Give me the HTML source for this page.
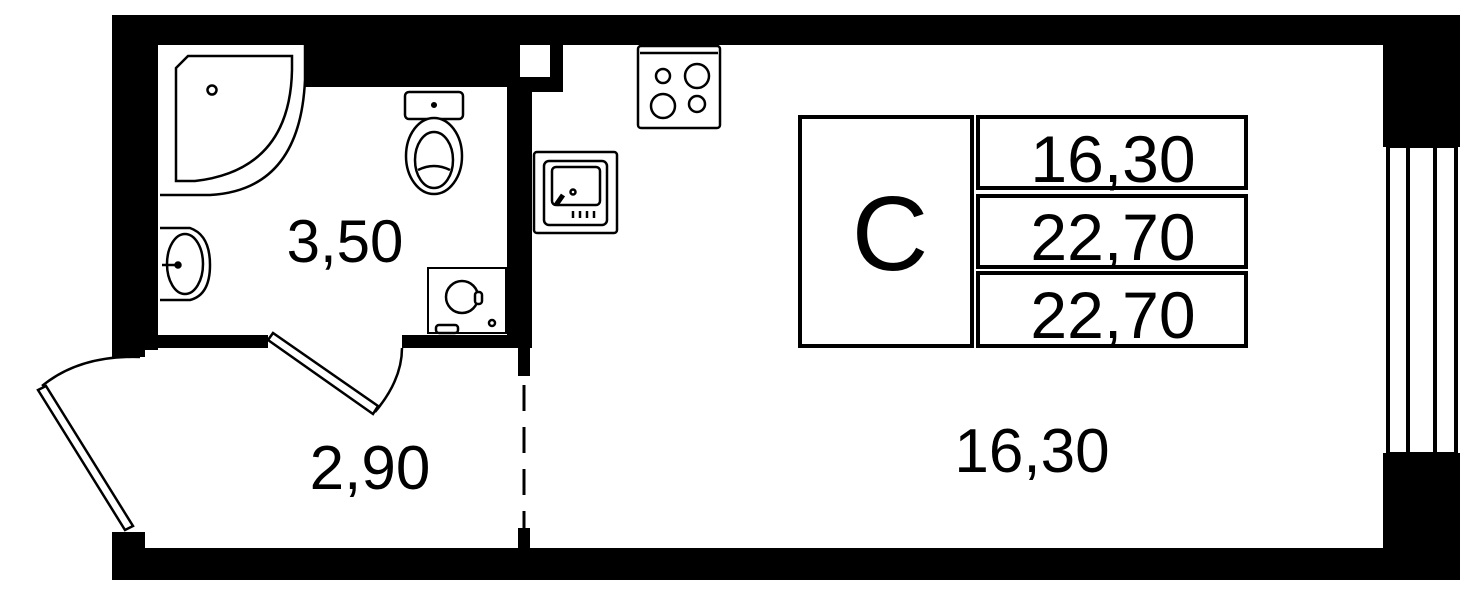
<!DOCTYPE html>
<html><head><meta charset="utf-8"><style>
html,body{margin:0;padding:0;background:#fff;}
svg{display:block;}
text{font-family:"Liberation Sans",sans-serif;fill:#000;}
</style></head><body>
<svg width="1481" height="600" viewBox="0 0 1481 600" xmlns="http://www.w3.org/2000/svg">
<rect width="1481" height="600" fill="#fff"/>
<g fill="#000">
<!-- top wall -->
<rect x="112" y="15" width="1348" height="30"/>
<!-- bathroom thicker top -->
<rect x="305" y="15" width="202" height="72"/>
<!-- left wall -->
<rect x="112" y="15" width="46" height="335"/>
<rect x="112" y="335" width="33" height="22"/>
<!-- bathroom right wall -->
<rect x="507" y="15" width="25" height="333"/>
<rect x="507" y="15" width="56" height="77"/>
<!-- hall right wall stub -->
<rect x="518" y="340" width="12" height="36"/>
<rect x="518" y="528" width="12" height="52"/>
<!-- bathroom bottom wall -->
<rect x="145" y="335" width="123" height="13"/>
<rect x="402" y="335" width="128" height="13"/>
<!-- bottom wall -->
<rect x="112" y="548" width="1348" height="32"/>
<rect x="112" y="532" width="33" height="48"/>
<!-- right wall -->
<rect x="1383" y="15" width="77" height="132"/>
<rect x="1383" y="453" width="77" height="127"/>
</g>
<!-- small white square -->
<rect x="520" y="45" width="30" height="32" fill="#fff"/>
<!-- dashed divider -->
<line x1="524" y1="385" x2="524" y2="528" stroke="#000" stroke-width="3" stroke-dasharray="26,16"/>
<!-- window -->
<g stroke="#000" stroke-width="4" fill="none">
<line x1="1388" y1="147" x2="1388" y2="453"/>
<line x1="1408" y1="147" x2="1408" y2="453"/>
<line x1="1435" y1="147" x2="1435" y2="453"/>
<line x1="1456" y1="147" x2="1456" y2="453"/>
<line x1="1386" y1="147" x2="1458" y2="147" stroke-width="2"/>
<line x1="1386" y1="453" x2="1458" y2="453" stroke-width="2"/>
</g>
<!-- entrance door -->
<g stroke="#000" fill="none">
<path d="M38 390 L125 530 L133 526 L46 386 Z" stroke-width="2.5" fill="#fff"/>
<path d="M42 386 Q80 355 140 357" stroke-width="2.5"/>
<!-- bathroom door -->
<path d="M268 340 L373 414 L378 406 L273 333 Z" stroke-width="2.5" fill="#fff"/>
<path d="M375 412 Q402 380 402 348" stroke-width="2.5"/>
</g>
<!-- shower -->
<g stroke="#000" stroke-width="2.5" fill="#fff">
<path d="M160 45 L305 45 L305 80 Q300 190 210 195 L160 195 Z" stroke="none"/>
<path d="M176 68 L188 56 L292 56 L292 70 Q290 170 195 181 L176 181 Z" fill="none"/>
<path d="M305 45 L305 80 Q300 190 210 195 L160 195" fill="none"/>
<circle cx="212" cy="90" r="4.5" fill="none"/>
<!-- toilet -->
<rect x="405" y="92" width="58" height="27" rx="4"/>
<circle cx="434" cy="105" r="1.8" fill="#000"/>
<ellipse cx="434" cy="156" rx="28" ry="38"/>
<ellipse cx="434" cy="160" rx="19" ry="28"/>
<path d="M418 170 Q434 162 450 170" fill="none"/>
<!-- washbasin -->
<path d="M160 228 L190 228 Q210 235 210 265 Q210 295 190 300 L160 300" />
<ellipse cx="185" cy="264" rx="18" ry="30"/>
<line x1="162" y1="265" x2="178" y2="265"/>
<circle cx="178" cy="265" r="2.5" fill="#000"/>
<!-- washing machine -->
<rect x="428" y="268" width="78" height="65" stroke-width="2"/>
<circle cx="462" cy="297" r="16"/>
<rect x="475" y="292" width="7" height="12" rx="3"/>
<circle cx="492" cy="323" r="3"/>
<rect x="436" y="325" width="22" height="8" rx="3"/>
<!-- stove -->
<rect x="638" y="46" width="82" height="82" rx="3"/>
<line x1="640" y1="53" x2="718" y2="53"/>
<circle cx="663" cy="76" r="7"/>
<circle cx="697" cy="76" r="12"/>
<circle cx="663" cy="106" r="12"/>
<circle cx="697" cy="104" r="8"/>
<!-- sink -->
<rect x="534" y="152" width="83" height="81" rx="3"/>
<rect x="544" y="161" width="63" height="64" rx="5"/>
<rect x="552" y="167" width="48" height="38" rx="4"/>
<circle cx="573" cy="192" r="2.5"/>
<line x1="563" y1="195" x2="556" y2="205" stroke-width="5"/>
<line x1="573" y1="211" x2="573" y2="218"/>
<line x1="580" y1="211" x2="580" y2="218"/>
<line x1="587" y1="211" x2="587" y2="218"/>
<line x1="594" y1="211" x2="594" y2="218"/>
</g>
<!-- legend table -->
<g stroke="#000" stroke-width="4" fill="none">
<rect x="800" y="117" width="172" height="229"/>
<rect x="978" y="117" width="268" height="71"/>
<rect x="978" y="196" width="268" height="71"/>
<rect x="978" y="273" width="268" height="73"/>
</g>
<text x="890" y="270" font-size="106" text-anchor="middle">C</text>
<text x="1113" y="182" font-size="66" text-anchor="middle">16,30</text>
<text x="1113" y="260" font-size="66" text-anchor="middle">22,70</text>
<text x="1113" y="338" font-size="66" text-anchor="middle">22,70</text>
<!-- room labels -->
<text x="345" y="262" font-size="60" text-anchor="middle">3,50</text>
<text x="370" y="489" font-size="62" text-anchor="middle">2,90</text>
<text x="1032" y="472" font-size="62" text-anchor="middle">16,30</text>
</svg>
</body></html>
